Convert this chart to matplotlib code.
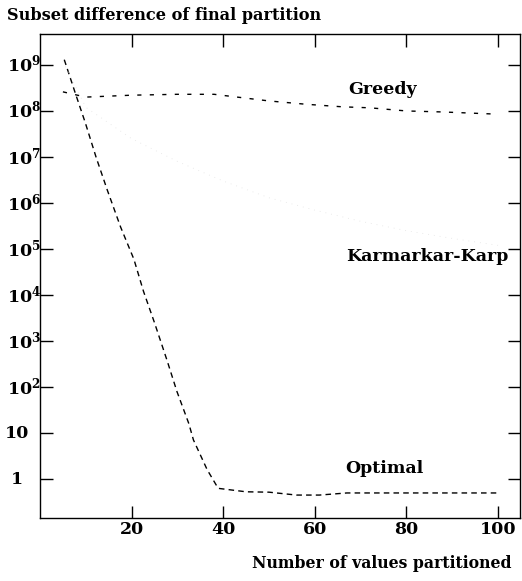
import matplotlib
matplotlib.use("Agg")
import matplotlib.pyplot as plt
from matplotlib.ticker import FixedLocator, NullLocator, NullFormatter

plt.rcParams['font.family'] = ['DejaVu Serif']
plt.rcParams['mathtext.fontset'] = 'dejavuserif'

# Data
n_opt = [5.3, 7.7, 9.9, 12.3, 14.7, 17.6, 20.5, 22.6, 25.0, 27.7, 29.9, 32.5, 33.5, 36.5, 38.9,
         45, 50, 56, 61, 67, 72, 77, 85, 92, 100]
opt = [1.3e9, 2.45e8, 5.5e7, 9.5e6, 1.9e6, 3.0e5, 6.0e4, 1.2e4, 2.5e3, 390, 80, 16, 7.1, 1.6, 0.63,
       0.53, 0.52, 0.45, 0.45, 0.5, 0.5, 0.5, 0.5, 0.5, 0.5]

n_greedy = [5, 10, 20, 30, 38, 50, 58, 66, 72, 80, 88, 100]
greedy = [2.6e8, 2.0e8, 2.2e8, 2.3e8, 2.3e8, 1.65e8, 1.4e8, 1.23e8, 1.17e8, 1.0e8, 0.95e8, 0.85e8]

n_kk = [5, 10, 20, 30, 40, 50, 60, 70, 80, 90, 100]
kk = [1.2e9, 1.2e8, 2.5e7, 8e6, 3e6, 1.3e6, 7e5, 4e5, 2.5e5, 1.7e5, 1.2e5]

xticks = [20, 40, 60, 80, 100]
ytick_vals = [1, 10, 1e2, 1e3, 1e4, 1e5, 1e6, 1e7, 1e8, 1e9]
ytick_labels = ['1', '10'] + [r'$\mathbf{10^{%d}}$' % k for k in range(2, 10)]

W, H = 522, 581
fig = plt.figure(figsize=(W / 100, H / 100), dpi=100)
ax_l, ax_r, ax_b, ax_t = 40, 520, 517.7, 34
ax = fig.add_axes([ax_l / W, 1 - ax_b / H, (ax_r - ax_l) / W, (ax_b - ax_t) / H])
ax.set_yscale('log')
ax.set_xlim(0, 104.8)
ax.set_ylim(0.145, 4.7e9)

ax.plot(n_opt, opt, color='black', lw=1.0, dashes=(4, 3))
ax.plot(n_greedy, greedy, color='black', lw=1.0, dashes=(3, 6))
ax.plot(n_kk, kk, color='#e4e4e4', lw=0.6, dashes=(1, 6))

ax.xaxis.set_major_locator(FixedLocator(xticks))
ax.xaxis.set_minor_locator(NullLocator())
ax.yaxis.set_major_locator(FixedLocator(ytick_vals))
ax.yaxis.set_minor_locator(NullLocator())
ax.yaxis.set_major_formatter(NullFormatter())
ax.set_xticklabels([str(v) for v in xticks])
ax.tick_params(direction='in', length=9, width=1, top=True, right=True,
               labelsize=12.5)
for lab in ax.get_xticklabels():
    lab.set_fontweight('bold')
ax.tick_params(axis='x', pad=2.5)
for s in ax.spines.values():
    s.set_linewidth(1.0)

# y tick labels placed as text (centered "1"/"10", left-aligned powers)
trans = ax.get_yaxis_transform()
span = ax_r - ax_l
for v, lab in zip(ytick_vals, ytick_labels):
    if v < 100:
        ax.text((17 - ax_l) / span, v, lab, transform=trans, ha='center', va='center',
                fontsize=12.5, fontweight='bold', clip_on=False)
    else:
        ax.text((7 - ax_l) / span, v, lab, transform=trans, ha='left', va='center',
                fontsize=12.5, fontweight='bold', clip_on=False)

ax.text(74.7, 10**8.46, 'Greedy', ha='center', va='center', fontsize=12.5, fontweight='bold')
ax.text(84.5, 10**4.83, 'Karmarkar-Karp', ha='center', va='center', fontsize=12.5, fontweight='bold')
ax.text(75.1, 10**0.24, 'Optimal', ha='center', va='center', fontsize=12.5, fontweight='bold')

fig.text(7 / W, 1 - 15 / H, 'Subset difference of final partition', ha='left', va='center',
         fontsize=11.6, fontweight='bold')
fig.text(512 / W, 1 - 563 / H, 'Number of values partitioned', ha='right', va='center',
         fontsize=11.3, fontweight='bold')

fig.savefig('out.png', dpi=100)
